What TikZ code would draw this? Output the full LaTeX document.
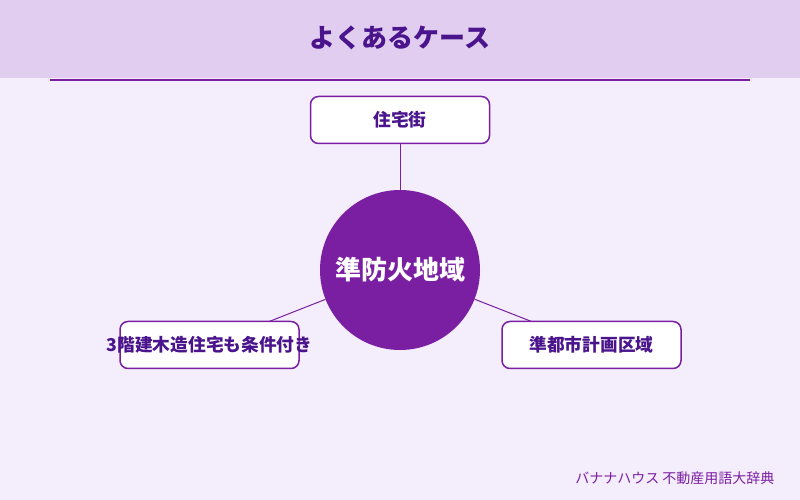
\documentclass[tikz,border=0pt]{standalone}
\usepackage{fontspec}
\newfontfamily\jpfont{Noto Sans CJK JP}
\usetikzlibrary{backgrounds}
\definecolor{bgpurple}{HTML}{F4EDFC}
\definecolor{headpurple}{HTML}{E1CDF0}
\definecolor{mainpurple}{HTML}{7B1FA2}
\definecolor{darkpurple}{HTML}{4A148C}

\begin{document}
\begin{tikzpicture}[x=1pt,y=1pt,
		hub/.style={circle,fill=mainpurple,minimum size=160pt,inner sep=0pt,
			text=white,font=\jpfont\bfseries\fontsize{26}{28}\selectfont},
		leaf/.style={rectangle,rounded corners=8pt,draw=mainpurple,line width=1.5pt,fill=white,
			minimum width=179pt,minimum height=47pt,inner sep=0pt,
			text=darkpurple,font=\jpfont\bfseries\fontsize{17.7}{19}\selectfont},
		link/.style={mainpurple,line width=1pt}]
	\useasboundingbox (0,0) rectangle (800,500);
	
	% title band
	\node (title) at (400,462) [text=darkpurple,font=\jpfont\bfseries\fontsize{26}{28}\selectfont] {よくあるケース};
	
	% hub and cases
	\node (hub) at (400,230) [hub] {準防火地域};
	\node (top) at (400,380) [leaf] {\makebox[0pt]{住宅街}};
	\node (left) at (209.5,155) [leaf] {\makebox[0pt]{3階建木造住宅も条件付き}};
	\node (right) at (591.5,155) [leaf] {\makebox[0pt]{準都市計画区域}};
	
	\node (credit) at (778,22) [anchor=east,text=mainpurple,font=\jpfont\fontsize{14}{16}\selectfont] {バナナハウス 不動産用語大辞典};
	
	\begin{scope}[on background layer]
		\fill[bgpurple] (0,0) rectangle (800,500);
		\fill[headpurple] (0,422) rectangle (800,500);
		\draw[mainpurple,line width=2pt] (50,420) -- (750,420);
		\foreach \X in {top,left,right}
			\draw[link] (hub) -- (\X.center);
	\end{scope}
\end{tikzpicture}
\end{document}
